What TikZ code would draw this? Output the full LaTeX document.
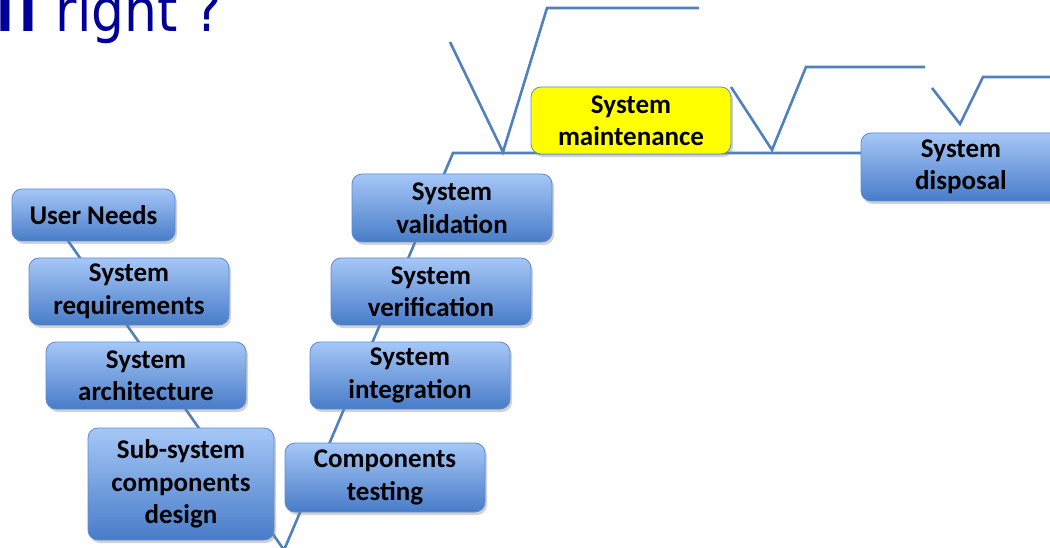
\documentclass[tikz,border=0pt]{standalone}
\usepackage{fontspec}
\setmainfont{Carlito}
\newfontfamily\titlefont[FakeStretch=0.88]{DejaVu Sans}
\usetikzlibrary{shadows}
\definecolor{boxtop}{RGB}{166,199,247}
\definecolor{boxbot}{RGB}{72,124,200}
\definecolor{boxedge}{RGB}{92,140,210}
\definecolor{linecol}{RGB}{79,129,189}
\definecolor{titleblue}{RGB}{0,0,153}
\definecolor{ylw}{RGB}{255,255,0}
\tikzset{
  stagebox/.style={rounded corners=10pt, draw=boxedge, line width=0.8pt,
    top color=boxtop, bottom color=boxbot, align=center, inner sep=0pt,
    font=\fontsize{27}{32.5}\selectfont\bfseries,
    drop shadow={shadow xshift=2pt, shadow yshift=-3pt, opacity=0.35}},
  hilite/.style={stagebox, top color=ylw, bottom color=ylw, draw=boxedge},
  vline/.style={draw=linecol, line width=2.6pt, line join=miter}
}
\begin{document}
\begin{tikzpicture}[x=1pt, y=-1pt]
\useasboundingbox (0,0) rectangle (1050,548);
\clip (0,0) rectangle (1050,548);
\fill[white] (0,0) rectangle (1050,548);

% title fragment
\node[anchor=base west, inner sep=0pt, text=titleblue, font=\titlefont\fontsize{59}{62}\selectfont] (title) at (-4,32) {{\bfseries l\kern6pt l}\hspace{18pt}right ?};

% coordinates of the V lines
\coordinate (vtl) at (50,215);
\coordinate (vb) at (284,550);
\coordinate (vtr) at (453,153);
\coordinate (aA) at (450,42);
\coordinate (aB) at (503,152);
\coordinate (aC) at (547,8);
\coordinate (aD) at (699,8);
\coordinate (bA) at (731,87);
\coordinate (bB) at (772,150);
\coordinate (bC) at (806,67);
\coordinate (bD) at (925,67);
\coordinate (cA) at (932,88);
\coordinate (cB) at (960,124);
\coordinate (cC) at (983,77);
\coordinate (cD) at (1060,77);

\draw[vline] (vtl) -- (vb) -- (vtr) -- (870,153);
\draw[vline] (aA) -- (aB) -- (aC) -- (aD);
\draw[vline] (bA) -- (bB) -- (bC) -- (bD);
\draw[vline] (cA) -- (cB) -- (cC) -- (cD);

\node[stagebox, minimum width=163pt, minimum height=52pt] (un) at (93.5,215) {User Needs};
\node[stagebox, minimum width=200pt, minimum height=67pt] (sr) at (129,291.5) {System\\requirements};
\node[stagebox, minimum width=200pt, minimum height=67pt] (sa) at (146,375.5) {System\\architecture};
\node[stagebox, minimum width=186pt, minimum height=112pt] (sc) at (181,484) {Sub-system\\components\\design};
\node[stagebox, minimum width=200pt, minimum height=69pt] (ct) at (385,477.5) {Components\\testing};
\node[stagebox, minimum width=200pt, minimum height=67pt] (si) at (410,375.5) {System\\integration};
\node[stagebox, minimum width=200pt, minimum height=67pt] (sv) at (431,291.5) {System\\verification};
\node[stagebox, minimum width=200pt, minimum height=68pt] (sval) at (452,208) {System\\validation};
\node[hilite, minimum width=200pt, minimum height=67pt] (sm) at (631,120.5) {System\\maintenance};
\node[stagebox, minimum width=200pt, minimum height=68pt] (sd) at (961,167) {System\\disposal};
\end{tikzpicture}
\end{document}
